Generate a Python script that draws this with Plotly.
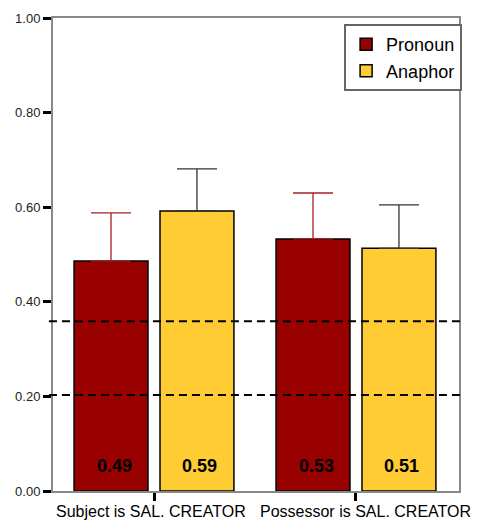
import plotly.graph_objects as go

categories = ["Subject is SAL. CREATOR", "Possessor is SAL. CREATOR"]
series_names = ["Pronoun", "Anaphor"]
pronoun = [0.486, 0.533]
anaphor = [0.592, 0.513]
pronoun_err = [0.102, 0.097]
anaphor_err = [0.089, 0.092]
ref_lines = [0.359, 0.203]
y_ticks = [0.0, 0.2, 0.4, 0.6, 0.8, 1.0]

colors = ["#990000", "#FFCC33"]
err_colors = ["#A82020", "#333333"]
FONT = "Liberation Sans, Arial, sans-serif"

BARGAP = 0.149
fig = go.Figure()
for name, vals, errs, col, ecol in zip(series_names, [pronoun, anaphor],
                                      [pronoun_err, anaphor_err], colors, err_colors):
    fig.add_trace(go.Bar(
        name=name, x=categories, y=vals,
        marker=dict(color=col, line=dict(color="black", width=1.5)),
        error_y=dict(type="data", symmetric=False, array=errs,
                     arrayminus=[0] * len(errs), color=ecol, thickness=1.3, width=20),
    ))

# value labels near bar bottoms
slot = (1 - BARGAP) / 2
for si, vals in enumerate([pronoun, anaphor]):
    for ci, v in enumerate(vals):
        fig.add_annotation(x=ci + (si - 0.5) * slot, y=0.053, xref="x", yref="y",
                           text=f"<b>{v:.2f}</b>", showarrow=False, xshift=3,
                           font=dict(size=18, color="black", family=FONT))

# category labels
for ci, (cat, sh) in enumerate(zip(categories, [-3, 10])):
    fig.add_annotation(x=ci, y=0, xref="x", yref="paper", yanchor="top",
                       text=cat, showarrow=False, xshift=sh, yshift=-10,
                       font=dict(size=16, color="black", family=FONT))

for r in ref_lines:
    fig.add_shape(type="line", xref="paper", yref="y", x0=-0.01, x1=1.003, y0=r, y1=r,
                  line=dict(color="black", width=2, dash="8px,5px"))

fig.update_layout(
    width=474, height=512,
    margin=dict(l=45, r=23, t=10, b=29, autoexpand=False),
    paper_bgcolor="white", plot_bgcolor="white",
    barmode="group", bargap=BARGAP, bargroupgap=0.14,
    font=dict(family=FONT, color="#222"),
    showlegend=True,
    legend=dict(x=0.717, y=0.987, xanchor="left", yanchor="top",
                bordercolor="#666", borderwidth=2, bgcolor="white",
                font=dict(size=18, color="black"), tracegroupgap=0),
    xaxis=dict(range=[-0.5, 1.51], showline=True, linecolor="#888", linewidth=2,
               mirror=True, ticks="outside", tickcolor="black", tickwidth=3, ticklen=8,
               showticklabels=False, showgrid=False, zeroline=False,
               automargin=False),
    yaxis=dict(range=[0, 1], tickvals=y_ticks, tickformat=".2f", showline=True,
               linecolor="#888", linewidth=2, mirror=True, ticks="outside",
               tickcolor="black", tickwidth=3, ticklen=8,
               tickfont=dict(size=13, color="#222"),
               showgrid=False, zeroline=False, automargin=False),
)

fig.write_html("out.html")
